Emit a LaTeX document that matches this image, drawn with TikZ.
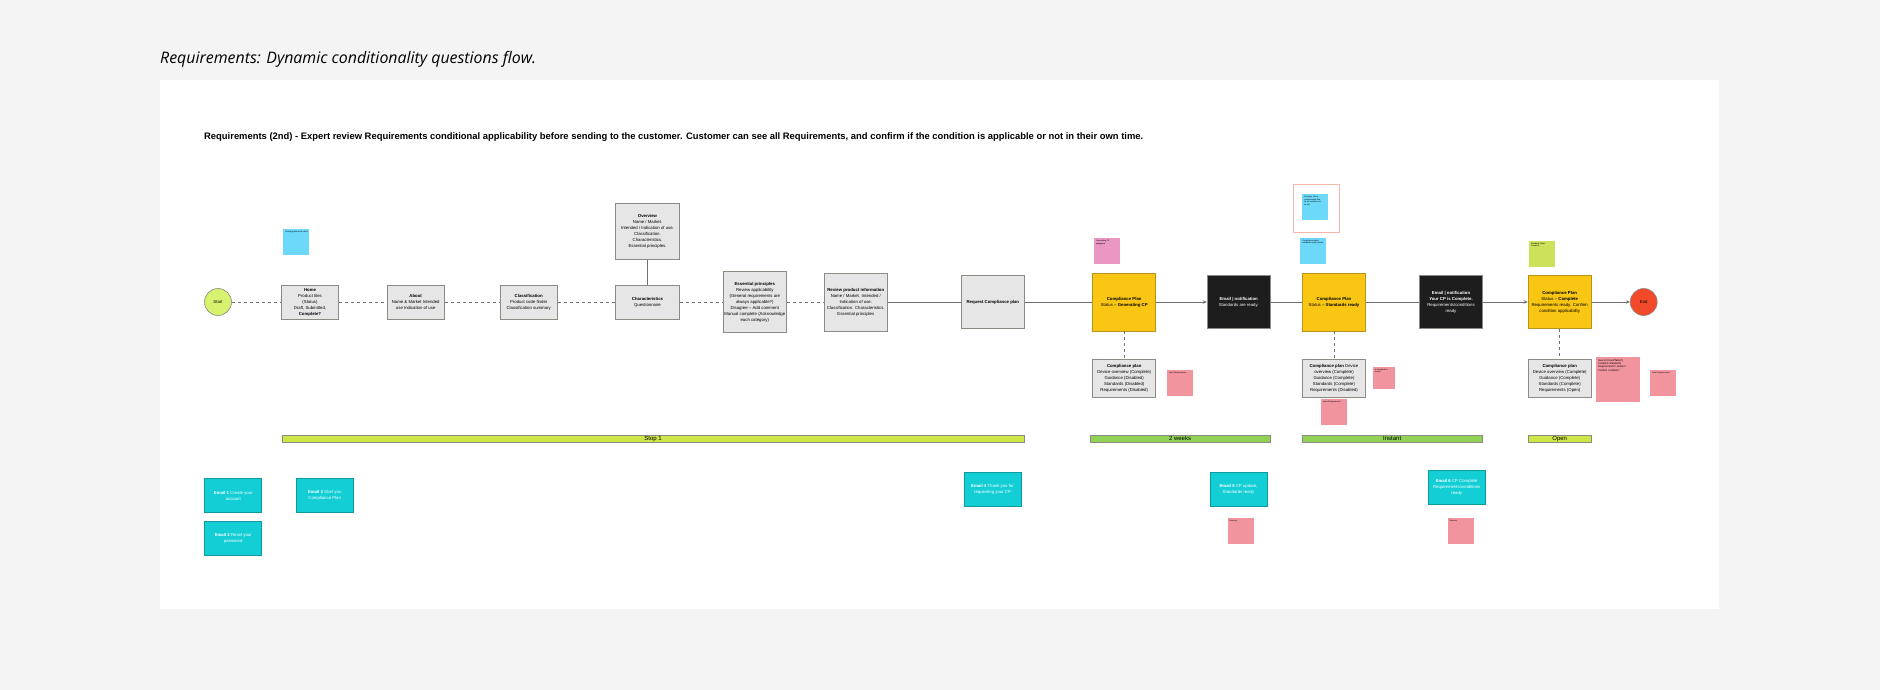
\documentclass[tikz,border=0pt]{standalone}
\usepackage{fontspec}
\usepackage{graphicx}
\setmainfont{Liberation Sans}
\newfontfamily\titlefont{Open Sans}
\usetikzlibrary{arrows.meta}
\definecolor{bgc}{HTML}{F4F4F4}
\definecolor{boxfill}{HTML}{E6E6E6}
\definecolor{boxline}{HTML}{8C8A82}
\definecolor{linegray}{HTML}{707070}
\definecolor{cpyellow}{HTML}{F9C613}
\definecolor{cpline}{HTML}{B8941C}
\definecolor{mailblack}{HTML}{1D1D1D}
\definecolor{teal}{HTML}{14CED6}
\definecolor{tealline}{HTML}{0F9A9E}
\definecolor{startc}{HTML}{D6F26F}
\definecolor{endc}{HTML}{F2492A}
\definecolor{stblue}{HTML}{6CD8FA}
\definecolor{stmag}{HTML}{EA97C3}
\definecolor{stsal}{HTML}{F1949E}
\definecolor{stgreen}{HTML}{CEE15A}
\definecolor{barA}{HTML}{CEE546}
\definecolor{barB}{HTML}{8FD256}
\definecolor{framec}{HTML}{F4B5AC}
\tikzset{
  x=1pt, y=-1pt,
  flowbox/.style={draw=boxline, fill=boxfill, line width=0.9pt, align=center, inner sep=1pt,
    font=\fontsize{4.3}{6}\selectfont},
  planbox/.style={draw=cpline, fill=cpyellow, line width=0.9pt, align=center, inner sep=1pt,
    font=\fontsize{4.3}{6}\selectfont},
  mailbox/.style={draw=boxline, fill=mailblack, text=white, line width=0.9pt, align=center, inner sep=1pt,
    font=\fontsize{4.3}{6}\selectfont},
  emailbox/.style={draw=tealline, fill=teal, text=white, line width=0.9pt, align=center, inner sep=1pt,
    minimum width=57, minimum height=34, font=\fontsize{4.3}{6}\selectfont},
  sticky/.style={minimum width=26, minimum height=26, inner sep=0pt},
  sttext/.style={anchor=north west, inner sep=2pt, align=left, font=\fontsize{2}{2.5}\selectfont},
  termnode/.style={circle, draw=boxline, line width=0.6pt, minimum size=27, inner sep=0pt,
    font=\fontsize{4.3}{6}\selectfont},
  barnode/.style={draw=boxline, line width=0.6pt, minimum height=7, inner sep=0pt,
    font=\fontsize{6}{7}\selectfont},
  dline/.style={draw=linegray, line width=0.8pt, dash pattern=on 3pt off 3pt},
  sline/.style={draw=linegray, line width=0.9pt},
  tip/.style={-{Stealth[length=4pt,width=3.5pt]}},
}
\begin{document}
\begin{tikzpicture}
% background and panel
\fill[bgc] (0,0) rectangle (1880,690);
\useasboundingbox (0,0) rectangle (1880,690);
\fill[white] (160,80) rectangle (1719,609);

% title and heading
\node[anchor=west, inner sep=0] (title) at (160,59)
  {\resizebox{376pt}{!}{\titlefont\itshape Requirements: Dynamic conditionality questions flow.}};
\node[anchor=west, inner sep=0] (head) at (204,137.5)
  {\resizebox{939pt}{!}{\bfseries Requirements (2nd) - Expert review Requirements conditional applicability before sending to the customer. Customer can see all Requirements, and confirm if the condition is applicable or not in their own time.}};

% main flow
\node[termnode, fill=startc] (start) at (218,302) {Start};
\node[flowbox, minimum width=57, minimum height=34] (home) at (310,302)
  {\textbf{Home}\\Product tiles\\(Status)\\Draft, Submitted,\\\textbf{Complete?}};
\node[flowbox, minimum width=57, minimum height=34] (about) at (415.7,302)
  {\textbf{About}\\Name \& Market Intended\\use Indication of use};
\node[flowbox, minimum width=57, minimum height=34] (class) at (528.7,302)
  {\textbf{Classification}\\Product code finder\\Classification summary};
\node[flowbox, minimum width=64, minimum height=56] (overview) at (647.5,231.3)
  {\textbf{Overview}\\Name / Market.\\Intended / Indication of use.\\Classification.\\Characteristics.\\Essential principles.};
\node[flowbox, minimum width=64, minimum height=34] (charac) at (647.5,302)
  {\textbf{Characteristics}\\Questionnaire};
\node[flowbox, minimum width=63, minimum height=61] (essent) at (754.8,302)
  {\textbf{Essential principles}\\Review applicability\\(General requirements are\\always applicable?)\\Disagree -- Add comment\\Manual complete (Acknowledge\\each category)};
\node[flowbox, minimum width=63, minimum height=58] (review) at (855.8,302)
  {\textbf{Review product information}\\Name / Market. Intended /\\Indication of use.\\Classification. Characteristics.\\Essential principles};
\node[flowbox, minimum width=63, minimum height=53] (request) at (992.8,302)
  {\textbf{Request Compliance plan}};
\node[planbox, minimum width=63, minimum height=58] (cp1) at (1124.2,302)
  {\textbf{Compliance Plan}\\Status -- \textbf{Generating CP}};
\node[mailbox, minimum width=63, minimum height=53] (mail1) at (1238.7,302)
  {\textbf{Email | notification}\\Standards are ready.};
\node[planbox, minimum width=63, minimum height=58] (cp2) at (1334,302)
  {\textbf{Compliance Plan}\\Status -- \textbf{Standards ready}};
\node[mailbox, minimum width=63, minimum height=53] (mail2) at (1451,302)
  {\textbf{Email | notification}\\\textbf{Your CP is Complete.}\\Requirements/conditions\\ready};
\node[planbox, minimum width=63, minimum height=53] (cp3) at (1559.7,302)
  {\textbf{Compliance Plan}\\Status -- \textbf{Complete}\\Requirements ready. Confirm\\condition applicability};
\node[termnode, fill=endc] (end) at (1643.7,302) {End};

% plan detail boxes
\node[flowbox, minimum width=63, minimum height=38] (plan1) at (1124.2,378.2)
  {\textbf{Compliance plan}\\Device overview (Complete)\\Guidance (Disabled)\\Standards (Disabled)\\Requirements (Disabled)};
\node[flowbox, minimum width=63, minimum height=38] (plan2) at (1334,378.2)
  {\textbf{Compliance plan} Device\\overview (Complete)\\Guidance (Complete)\\Standards (Complete)\\Requirements (Disabled)};
\node[flowbox, minimum width=63, minimum height=38] (plan3) at (1559.7,378.2)
  {\textbf{Compliance plan}\\Device overview (Complete)\\Guidance (Complete)\\Standards (Complete)\\Requirements (Open)};

% connectors
\draw[dline] (start) -- (home);
\draw[dline] (home) -- (about);
\draw[dline] (about) -- (class);
\draw[dline] (class) -- (charac);
\draw[dline] (charac) -- (essent);
\draw[dline] (essent) -- (review);
\draw[sline] (overview) -- (charac);
\draw[sline] (review) -- (request);
\draw[sline] (request) -- (cp1);
\draw[sline, tip] (cp1) -- (mail1);
\draw[sline] (mail1) -- (cp2);
\draw[sline] (cp2) -- (mail2);
\draw[sline, tip] (mail2) -- (cp3);
\draw[sline, tip] (cp3) -- (end);
\draw[dline] (cp1) -- (plan1);
\draw[dline] (cp2) -- (plan2);
\draw[dline] (cp3) -- (plan3);

% sticky notes
\node[sticky, fill=stblue] (n1) at (296,242) {};
\node[sttext] (n1t) at (n1.north west) {Changing flow more direct};
\node[sticky, fill=stmag] (n2) at (1107.3,251.3) {};
\node[sttext] (n2t) at (n2.north west) {Generating CP\\\textbf{progress}};
\node[draw=framec, line width=0.9pt, minimum width=46, minimum height=48] (frame) at (1316.3,208.3) {};
\node[sticky, fill=stblue] (n3) at (1315.3,207.2) {};
\node[sttext] (n3t) at (n3.north west) {Principle: Not a\\questionnaire flow\\for all conditions to\\be set};
\node[sticky, fill=stblue] (n4) at (1313.3,250.8) {};
\node[sttext] (n4t) at (n4.north west) {Compliance status\\standards ready (email)};
\node[sticky, fill=stgreen] (n5) at (1542,253.7) {};
\node[sttext] (n5t) at (n5.north west) {Standard Status\\Complete};
\node[sticky, fill=stsal] (n6) at (1180,382.8) {};
\node[sttext] (n6t) at (n6.north west) {Input Requirements};
\node[sticky, fill=stsal, minimum width=22, minimum height=22] (n7) at (1383.8,377.8) {};
\node[sttext] (n7t) at (n7.north west) {Is standards in\\scope?};
\node[sticky, fill=stsal] (n8) at (1334.2,412) {};
\node[sttext] (n8t) at (n8.north west) {Input Requirements};
\node[sticky, fill=stsal, minimum width=44, minimum height=45] (n9) at (1618.2,379.8) {};
\node[sttext, font=\fontsize{2.6}{3.3}\selectfont] (n9t) at (n9.north west) {New UI (Card/Table?)\\Combine Standards\\Requirements?, Button?\\Confirm condition?};
\node[sticky, fill=stsal] (n10) at (1663.3,383) {};
\node[sttext] (n10t) at (n10.north west) {Input Requirements};
\node[sticky, fill=stsal] (n11) at (1240.6,531) {};
\node[sttext] (n11t) at (n11.north west) {Remove};
\node[sticky, fill=stsal] (n12) at (1460.6,531) {};
\node[sttext] (n12t) at (n12.north west) {Remove};

% phase bars
\node[barnode, fill=barA, minimum width=742.6] (bar1) at (653.1,438.8) {Stop 1};
\node[barnode, fill=barB, minimum width=180] (bar2) at (1180,438.8) {2 weeks};
\node[barnode, fill=barB, minimum width=180] (bar3) at (1392.2,438.8) {Instant};
\node[barnode, fill=barA, minimum width=63] (bar4) at (1559.7,438.8) {Open};

% email boxes
\node[emailbox] (e1) at (233.3,495.5) {\textbf{Email 1} Create your\\account};
\node[emailbox] (e2) at (233.3,538.8) {\textbf{Email 2} Reset your\\password};
\node[emailbox] (e3) at (324.7,495.5) {\textbf{Email 3} Start you\\Compliance Plan};
\node[emailbox] (e4) at (992.5,489.5) {\textbf{Email 4} Thank you for\\requesting your CP};
\node[emailbox] (e5) at (1238.5,489.5) {\textbf{Email 5} CP update,\\Standards ready};
\node[emailbox] (e6) at (1456.7,487.5) {\textbf{Email 6} CP Complete\\Requirements/conditions\\ready};
\end{tikzpicture}
\end{document}
